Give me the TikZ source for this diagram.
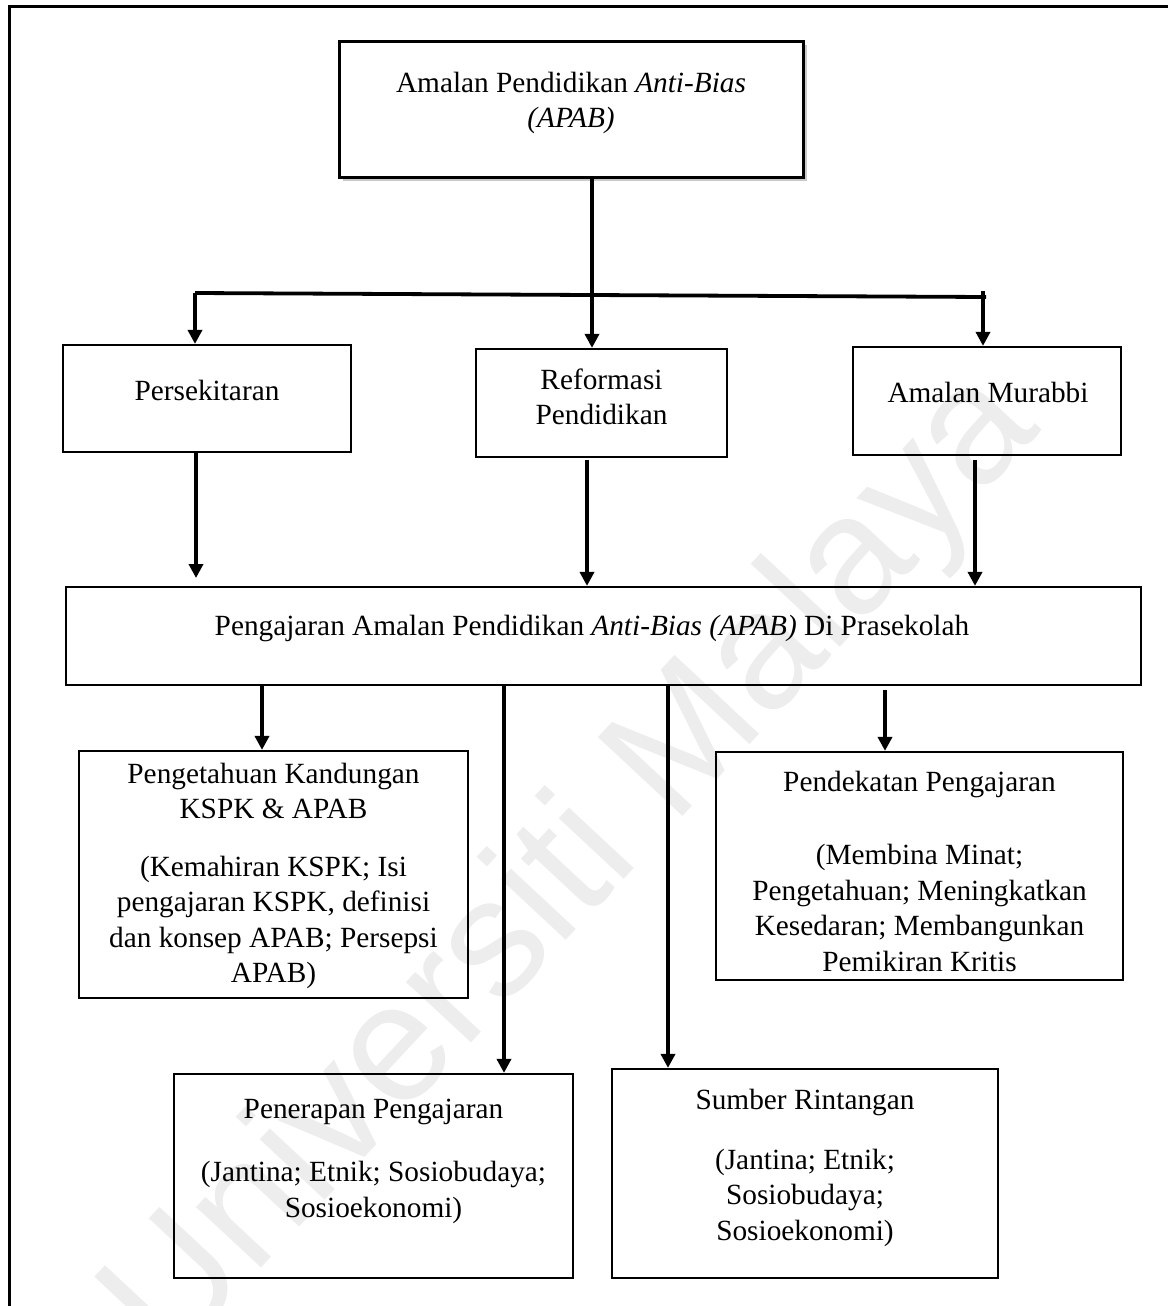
\documentclass[tikz,border=0pt]{standalone}
\usepackage{fontspec}
\setmainfont{Liberation Serif}
\newfontfamily\wmfont{Liberation Sans}
\usetikzlibrary{arrows.meta,shadows}
\begin{document}
\begin{tikzpicture}[x=0.5pt,y=-0.5pt,
  box/.style={draw, line width=1.1pt, inner sep=0pt},
  topbox/.style={draw, line width=1.5pt, inner sep=0pt, fill=white,
    drop shadow={shadow xshift=2pt, shadow yshift=-2pt, fill=black!35, opacity=0.6}},
  txt/.style={align=center, inner sep=0pt, font=\fontsize{14.65pt}{17.75pt}\selectfont},
  arr/.style={line width=1.8pt, -{Triangle[length=7pt,width=7pt]}},
  conn/.style={line width=1.9pt},
  frame/.style={line width=1.5pt},
  wmark/.style={text=black!7, rotate=47, inner sep=0pt,
    font=\wmfont\fontsize{84pt}{84pt}\selectfont}]

\clip (0,0) rectangle (1168,1306);
\fill[white] (0,0) rectangle (1168,1306);

% faint background lettering
\node[wmark] (wm) at (575,868) {Universiti Malaya};

% outer frame (left and top edges)
\draw[frame] (9,1306) -- (9,6) -- (1168,6);

% boxes
\node[topbox, minimum width=232pt, minimum height=68pt] (top) at (571,109) {};
\node[box, minimum width=144pt, minimum height=53.5pt] (pers) at (207,398.5) {};
\node[box, minimum width=125.5pt, minimum height=54pt] (ref) at (601.5,403) {};
\node[box, minimum width=134pt, minimum height=54pt] (mur) at (987,401) {};
\node[box, minimum width=537.5pt, minimum height=49pt] (big) at (603.5,636) {};
\node[box, minimum width=194.5pt, minimum height=123.5pt] (peng) at (273.5,874.5) {};
\node[box, minimum width=203.5pt, minimum height=114pt] (pend) at (919.5,866) {};
\node[box, minimum width=199.5pt, minimum height=102pt] (pene) at (373.5,1176) {};
\node[box, minimum width=193pt, minimum height=104.5pt] (sumb) at (805,1173.5) {};

% texts
\node[txt] (ttop) at (571,103) {Amalan Pendidikan \textit{Anti-Bias}\\\textit{(APAB)}};
\node[txt] (tpers) at (207,390) {Persekitaran};
\node[txt] (tref) at (601.5,397) {Reformasi\\Pendidikan};
\node[txt] (tmur) at (988,392) {Amalan Murabbi};
\node[txt] (tbig) at (592,628) {Pengajaran Amalan Pendidikan \textit{Anti-Bias (APAB)} Di Prasekolah};
\node[txt] (tpeng) at (273.5,876) {Pengetahuan Kandungan\\KSPK \& APAB\\[11pt]
  (Kemahiran KSPK; Isi\\pengajaran KSPK, definisi\\dan konsep APAB; Persepsi\\APAB)};
\node[txt] (tpend) at (919.5,871) {Pendekatan Pengajaran\\[19pt]
  (Membina Minat;\\Pengetahuan; Meningkatkan\\Kesedaran; Membangunkan\\Pemikiran Kritis};
\node[txt] (tpene) at (373.5,1161) {Penerapan Pengajaran\\[14pt]
  (Jantina; Etnik; Sosiobudaya;\\Sosioekonomi)};
\node[txt] (tsumb) at (805,1168) {Sumber Rintangan\\[12pt]
  (Jantina; Etnik;\\Sosiobudaya;\\Sosioekonomi)};

% branching bar under the top box
\coordinate (barL) at (195,293);
\coordinate (barR) at (986,297);
\coordinate (barRa) at (983,291);
\coordinate (mid) at (592,0);
\draw[conn] (barL) -- (barR);
\draw[arr] (barL) -- (barL |- pers.north);
\draw[arr] (top.south -| mid) -- (mid |- ref.north);
\draw[arr] (barRa) -- (barRa |- mur.north);

% second level into the central box
\coordinate (p2) at (196,578);
\coordinate (r2) at (587,460);
\coordinate (m2) at (975,460);
\draw[arr] (pers.south -| p2) -- (p2);
\draw[arr] (r2) -- (r2 |- big.north);
\draw[arr] (m2) -- (m2 |- big.north);

% third level out of the central box
\coordinate (k1) at (262,0);
\coordinate (k2) at (504,0);
\coordinate (k3) at (668,0);
\coordinate (k4) at (885,690);
\draw[arr] (big.south -| k1) -- (k1 |- peng.north);
\draw[arr] (big.south -| k2) -- (k2 |- pene.north);
\draw[arr] (big.south -| k3) -- (k3 |- sumb.north);
\draw[arr] (k4) -- (k4 |- pend.north);
\end{tikzpicture}
\end{document}
